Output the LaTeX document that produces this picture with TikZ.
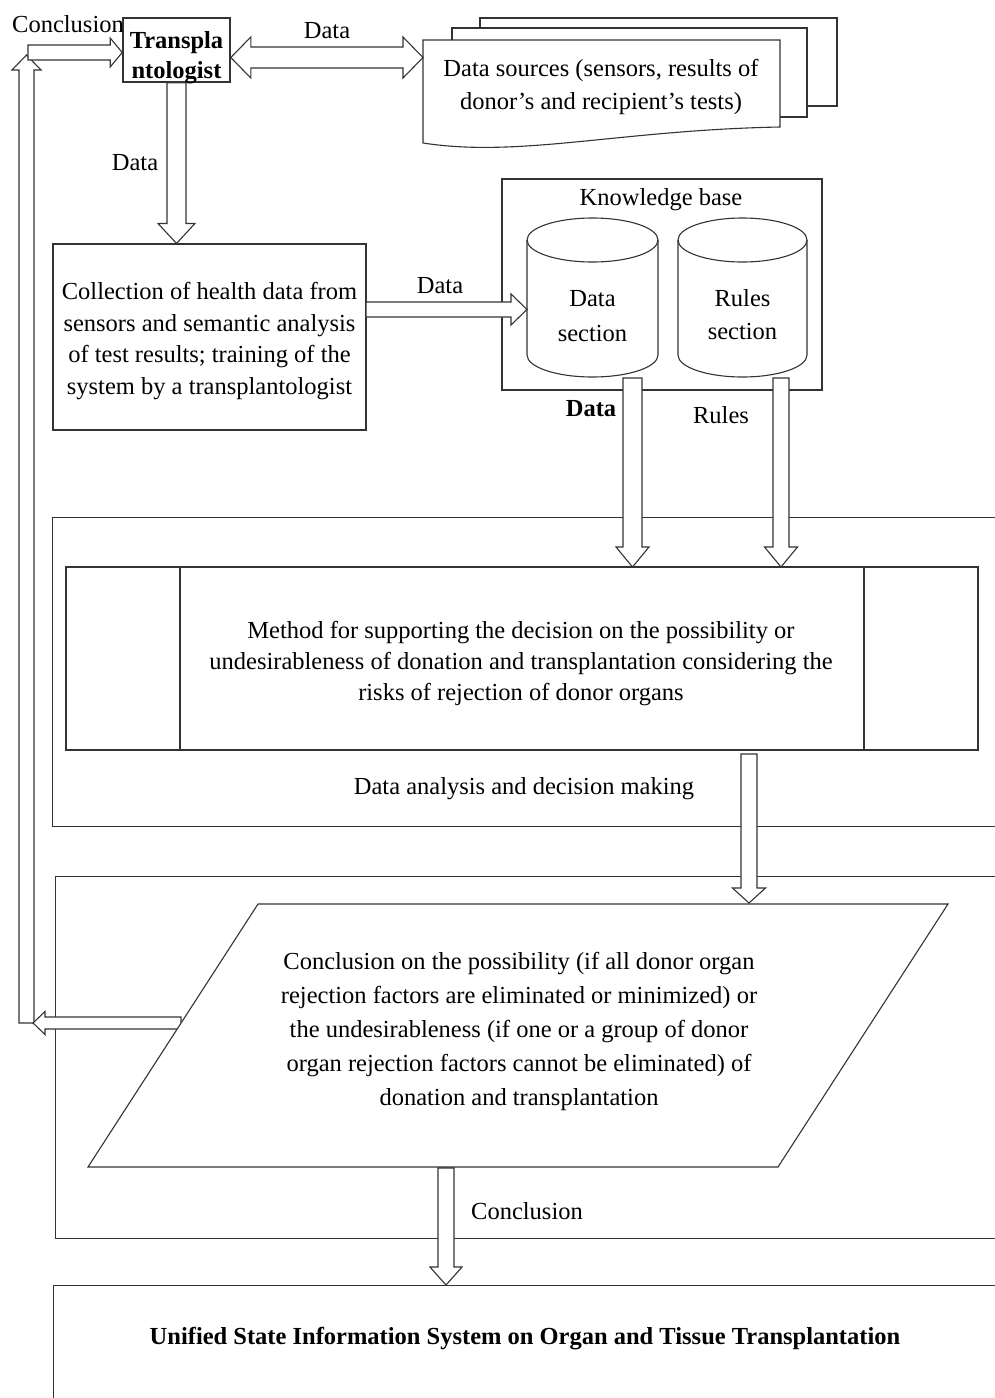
\documentclass[tikz,border=0pt]{standalone}
\usepackage{fontspec}
\setmainfont{Liberation Serif}
\usetikzlibrary{calc}
\newcommand{\fs}{\fontsize{24.5}{31}\selectfont}
\newcommand{\harr}[5]{%
  \coordinate (hA) at (#1);
  \coordinate (hB) at ($(#2)!#5!(#1)$);
  \draw[harrow] ($(hA)!#3!90:(hB)$) -- ($(hB)!#3!-90:(hA)$) -- ($(hB)!#4!-90:(hA)$) -- (#2) -- ($(hB)!#4!90:(hA)$) -- ($(hB)!#3!90:(hA)$) -- ($(hA)!#3!-90:(hB)$) -- cycle;}
\newcommand{\hdarr}[5]{%
  \coordinate (hA) at ($(#1)!#5!(#2)$);
  \coordinate (hB) at ($(#2)!#5!(#1)$);
  \draw[harrow] (#1) -- ($(hA)!#4!-90:(hB)$) -- ($(hA)!#3!-90:(hB)$) -- ($(hB)!#3!90:(hA)$) -- ($(hB)!#4!90:(hA)$) -- (#2) -- ($(hB)!#4!-90:(hA)$) -- ($(hB)!#3!-90:(hA)$) -- ($(hA)!#3!90:(hB)$) -- ($(hA)!#4!90:(hB)$) -- cycle;}
\newcommand{\cyl}[5]{% cx, rx, ytop, ybot, ry
  \draw[line, fill=white] ({#1-#2},#3) -- ({#1-#2},#4) .. controls ({#1-#2},{#4+0.5523*#5}) and ({#1-0.5523*#2},{#4+#5}) .. (#1,{#4+#5}) .. controls ({#1+0.5523*#2},{#4+#5}) and ({#1+#2},{#4+0.5523*#5}) .. ({#1+#2},#4) -- ({#1+#2},#3);
  \draw[line] (#1,#3) ellipse [x radius=#2, y radius=#5];}
\tikzset{
  line/.style={draw=black!80, line width=1.1pt},
  box/.style={line, fill=white, inner sep=0pt},
  harrow/.style={line, fill=white, line join=miter},
  txt/.style={font=\fs, align=center, inner sep=0pt, yshift=-3pt},
}
\begin{document}
\begin{tikzpicture}[x=1pt,y=-1pt]
\path[use as bounding box, clip] (0,0) rectangle (995,1398);
\fill[white] (0,0) rectangle (995,1398);

% big frames
\node[box, anchor=north west, minimum width=960pt, minimum height=309pt] (ana) at (52,517) {};
\node[box, anchor=north west, minimum width=960pt, minimum height=362pt] (conc) at (55,876) {};
\node[box, anchor=north west, minimum width=960pt, minimum height=200pt] (usis) at (53,1285) {};

% transplantologist
\node[box, line width=1.6pt, minimum width=107pt, minimum height=64pt] (tr) at (176.5,50) {};
\node[txt, font=\fontsize{24.5}{30}\selectfont\bfseries, yshift=-5pt] (trT) at (tr.center) {Transpla\\ntologist};
\node[txt] (concl1) at (68,21) {Conclusion};

% data sources (stacked documents)
\draw[line, fill=white] (480,18) rectangle (837,106);
\draw[line, fill=white] (452,28) rectangle (807,117);
\draw[line, fill=white] (423,143) -- (423,40) -- (780,40) -- (780,127) .. controls (620,130) and (520,158) .. (423,143) -- cycle;
\node[txt, font=\fontsize{24.5}{33}\selectfont] (ds) at (601,84) {Data sources (sensors, results of\\donor’s and recipient’s tests)};
\coordinate (dsW) at (423,57.5);

% collection box
\node[box, minimum width=313pt, minimum height=186pt] (col) at (209.5,337) {};
\node[txt, font=\fontsize{24.5}{31.7}\selectfont, yshift=-1pt] (colT) at (col.center) {Collection of health data from\\sensors and semantic analysis\\of test results; training of the\\system by a transplantologist};

% knowledge base
\node[box, minimum width=320pt, minimum height=211pt] (kb) at (662,284.5) {};
\node[txt] (kbl) at (661,197) {Knowledge base};
\cyl{592.5}{65.5}{240}{355}{22}
\cyl{742.5}{64.5}{240}{355}{22}
\node[txt, font=\fontsize{24.5}{35}\selectfont] (dsec) at (592.5,313) {Data\\section};
\node[txt, font=\fontsize{24.5}{33}\selectfont] (rsec) at (742.5,312) {Rules\\section};

% method box
\node[box, minimum width=912pt, minimum height=183pt] (meth) at (522,658.5) {};
\draw[line] (180,567) -- (180,750) (864,567) -- (864,750);
\node[txt] (methT) at (521,661) {Method for supporting the decision on the possibility or\\undesirableness of donation and transplantation considering the\\risks of rejection of donor organs};
\node[txt] (anaL) at (524,786) {Data analysis and decision making};

% left pipe and arrow from parallelogram
\coordinate (pipeB) at (26.5,1023);
\coordinate (pipeT) at (26.5,55);
\harr{pipeB}{pipeT}{7.5pt}{14.5pt}{15pt}
\coordinate (parL) at (181,1023);
\coordinate (pipeR) at (33,1023);
\harr{parL}{pipeR}{6pt}{11.5pt}{12pt}

% parallelogram
\draw[line, fill=white] (258,904) -- (948,904) -- (778,1167) -- (88,1167) -- cycle;
\node[txt, font=\fontsize{24.5}{34}\selectfont] (parT) at (519,1028) {Conclusion on the possibility (if all donor organ\\rejection factors are eliminated or minimized) or\\the undesirableness (if one or a group of donor\\organ rejection factors cannot be eliminated) of\\donation and transplantation};
\node[txt, font=\fs\bfseries] (usisT) at (525,1336) {Unified State Information System on Organ and Tissue Transplantation};

% arrows
\coordinate (cs) at (28,52.5);
\coordinate (trW) at (tr.west |- cs);
\harr{cs}{trW}{7.5pt}{14.5pt}{12pt}

\coordinate (trE) at (tr.east |- dsW);
\hdarr{trE}{dsW}{10.5pt}{20.5pt}{20pt}
\node[txt] (l1) at (327,28) {Data};

\coordinate (colN) at (tr.south |- col.north);
\harr{tr.south}{colN}{9.5pt}{18.5pt}{20pt}
\node[txt] (l2) at (135,160) {Data};

\coordinate (colE) at (366,309.5);
\coordinate (dsecW) at (527,309.5);
\harr{colE}{dsecW}{7.5pt}{15.5pt}{16pt}
\node[txt] (l3) at (440,283) {Data};

\coordinate (dsecB) at (632.5,378);
\coordinate (methA) at (632.5,567);
\harr{dsecB}{methA}{9.5pt}{16.5pt}{20pt}
\node[txt, font=\fs\bfseries] (l4) at (591,406) {Data};

\coordinate (rsecB) at (781,378);
\coordinate (methB) at (781,567);
\harr{rsecB}{methB}{8pt}{16.5pt}{20pt}
\node[txt] (l5) at (721,412) {Rules};

\coordinate (methS) at (749,754);
\coordinate (parN) at (749,903);
\harr{methS}{parN}{8pt}{16.5pt}{15pt}

\coordinate (parS) at (446,1168);
\coordinate (usisN) at (446,1285);
\harr{parS}{usisN}{8pt}{16pt}{18pt}
\node[txt] (l6) at (527,1208) {Conclusion};
\end{tikzpicture}
\end{document}
